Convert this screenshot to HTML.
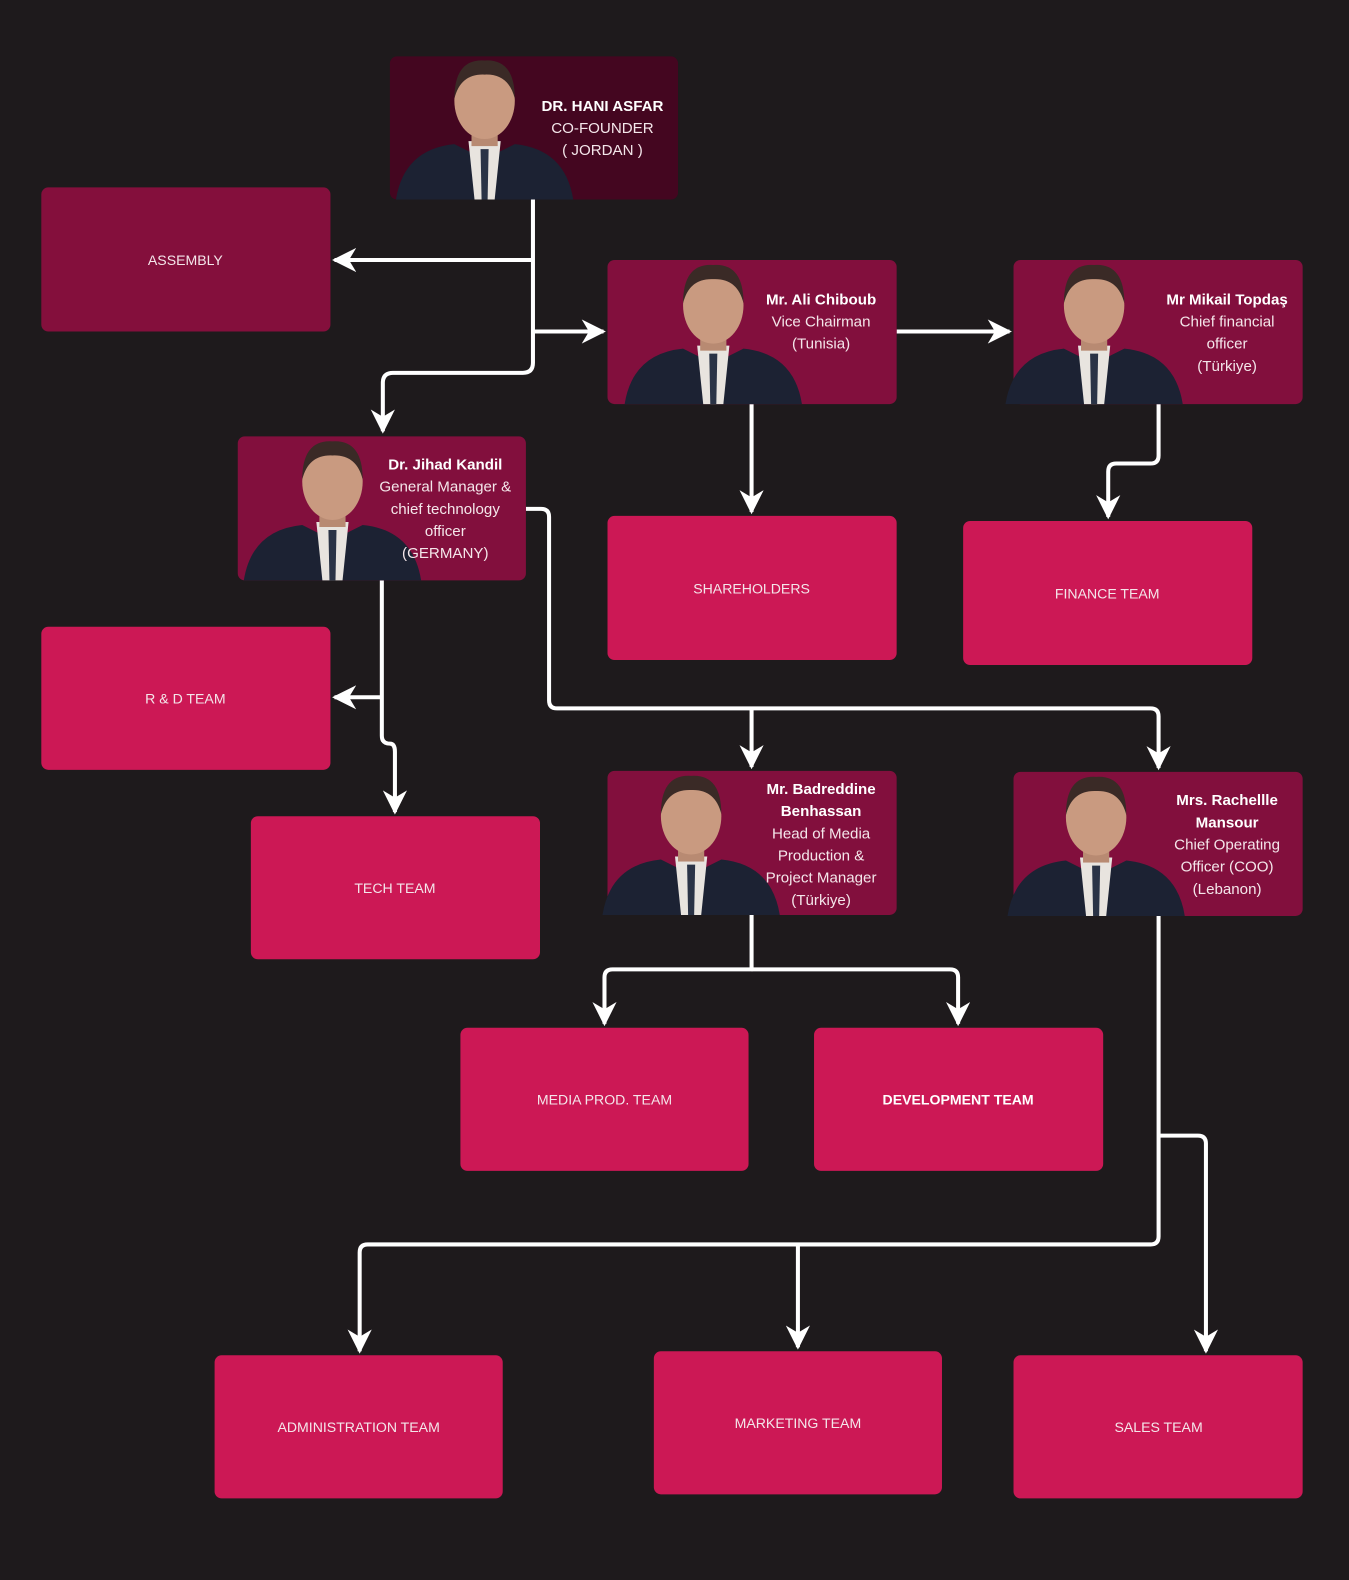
<!DOCTYPE html>
<html><head><meta charset="utf-8"><style>
html,body{margin:0;padding:0;background:#1e1a1c;}
svg{display:block}
text{font-family:"Liberation Sans",sans-serif;fill:#f4e6ea}
.t{font-size:14px;text-anchor:middle}
.n{font-size:15px;text-anchor:middle;font-weight:bold;fill:#fff}
.r{font-size:15px;text-anchor:middle}
</style></head><body>
<svg width="1349" height="1580" viewBox="0 0 1339 1568" preserveAspectRatio="none" xmlns="http://www.w3.org/2000/svg">
<defs>
<marker id="a" viewBox="0 0 10 10" refX="9" refY="5" markerWidth="6" markerHeight="6" orient="auto" markerUnits="strokeWidth">
<path d="M0,0 L10,5 L0,10 L3,5 Z" fill="#fff"/>
</marker>
<g id="p">
<path d="M-88,0 Q-80,-50 -30,-55 L0,-40 L30,-55 Q80,-50 88,0 Z" fill="#1c2233"/>
<path d="M-16,-58 L16,-58 L10,0 L-10,0Z" fill="#e8e4df"/>
<path d="M-4,-50 L4,-50 L3,0 L-3,0Z" fill="#2a3346"/>
<rect x="-13" y="-75" width="26" height="22" fill="#b88a72"/>
<ellipse cx="0" cy="-98" rx="30" ry="38" fill="#c99a80"/>
<path d="M-30,-100 Q-30,-140 0,-138 Q30,-140 30,-100 Q24,-125 0,-124 Q-24,-125 -30,-100Z" fill="#3a2a26"/>
</g>
</defs>
<rect width="1339" height="1568" fill="#1e1a1c"/>

<g fill="none" stroke="#fff" stroke-width="4" stroke-linejoin="round">
<path d="M529,198 V360 Q529,370 519,370 H390 Q380,370 380,380 V428" marker-end="url(#a)"/>
<path d="M529,258 H332" marker-end="url(#a)"/>
<path d="M529,329 H599" marker-end="url(#a)"/>
<path d="M890,329 H1002" marker-end="url(#a)"/>
<path d="M746,401 V508" marker-end="url(#a)"/>
<path d="M1150,401 V452 Q1150,460 1142,460 H1108 Q1100,460 1100,468 V513" marker-end="url(#a)"/>
<path d="M522,505 H537 Q545,505 545,513 V695 Q545,703 553,703 H1142 Q1150,703 1150,711 V762" marker-end="url(#a)"/>
<path d="M746,703 V761" marker-end="url(#a)"/>
<path d="M379,576 V730 Q379,738 387,738 Q392,738 392,746 V806" marker-end="url(#a)"/>
<path d="M379,692 H332" marker-end="url(#a)"/>
<path d="M746,908 V962 H608 Q600,962 600,970 V1016" marker-end="url(#a)"/>
<path d="M746,962 H943 Q951,962 951,970 V1016" marker-end="url(#a)"/>
<path d="M1150,909 V1227 Q1150,1235 1142,1235 H365 Q357,1235 357,1243 V1341" marker-end="url(#a)"/>
<path d="M1150,1127 H1189 Q1197,1127 1197,1135 V1341" marker-end="url(#a)"/>
<path d="M792,1235 V1337" marker-end="url(#a)"/>
</g>

<rect x="387" y="56" width="286" height="142" rx="7" fill="#440620"/>
<use href="#p" x="481" y="198"/>
<text class="n" x="598" y="110">DR. HANI ASFAR</text>
<text class="r" x="598" y="132">CO-FOUNDER</text>
<text class="r" x="598" y="154">( JORDAN )</text>

<rect x="41" y="186" width="287" height="143" rx="7" fill="#840f3c"/>
<text class="t" x="184" y="263">ASSEMBLY</text>

<rect x="603" y="258" width="287" height="143" rx="7" fill="#820f3d"/>
<use href="#p" x="708" y="401"/>
<text class="n" x="815" y="302">Mr. Ali Chiboub</text>
<text class="r" x="815" y="324">Vice Chairman</text>
<text class="r" x="815" y="346">(Tunisia)</text>

<rect x="1006" y="258" width="287" height="143" rx="7" fill="#820f3d"/>
<use href="#p" x="1086" y="401"/>
<text class="n" x="1218" y="302">Mr Mikail Topdaş</text>
<text class="r" x="1218" y="324">Chief financial</text>
<text class="r" x="1218" y="346">officer</text>
<text class="r" x="1218" y="368">(Türkiye)</text>

<rect x="236" y="433" width="286" height="143" rx="7" fill="#820f3d"/>
<use href="#p" x="330" y="576"/>
<text class="n" x="442" y="466">Dr. Jihad Kandil</text>
<text class="r" x="442" y="488">General Manager &amp;</text>
<text class="r" x="442" y="510">chief technology</text>
<text class="r" x="442" y="532">officer</text>
<text class="r" x="442" y="554">(GERMANY)</text>

<rect x="603" y="512" width="287" height="143" rx="7" fill="#cc1855"/>
<text class="t" x="746" y="589">SHAREHOLDERS</text>
<rect x="956" y="517" width="287" height="143" rx="7" fill="#cc1855"/>
<text class="t" x="1099" y="594">FINANCE TEAM</text>
<rect x="41" y="622" width="287" height="142" rx="7" fill="#cc1855"/>
<text class="t" x="184" y="698">R &amp; D TEAM</text>
<rect x="249" y="810" width="287" height="142" rx="7" fill="#cc1855"/>
<text class="t" x="392" y="886">TECH TEAM</text>

<rect x="603" y="765" width="287" height="143" rx="7" fill="#820f3d"/>
<use href="#p" x="686" y="908"/>
<text class="n" x="815" y="788">Mr. Badreddine</text>
<text class="n" x="815" y="810">Benhassan</text>
<text class="r" x="815" y="832">Head of Media</text>
<text class="r" x="815" y="854">Production &amp;</text>
<text class="r" x="815" y="876">Project Manager</text>
<text class="r" x="815" y="898">(Türkiye)</text>

<rect x="1006" y="766" width="287" height="143" rx="7" fill="#820f3d"/>
<use href="#p" x="1088" y="909"/>
<text class="n" x="1218" y="799">Mrs. Rachellle</text>
<text class="n" x="1218" y="821">Mansour</text>
<text class="r" x="1218" y="843">Chief Operating</text>
<text class="r" x="1218" y="865">Officer (COO)</text>
<text class="r" x="1218" y="887">(Lebanon)</text>

<rect x="457" y="1020" width="286" height="142" rx="7" fill="#cc1855"/>
<text class="t" x="600" y="1096">MEDIA PROD. TEAM</text>
<rect x="808" y="1020" width="287" height="142" rx="7" fill="#cc1855"/>
<text class="t" x="951" y="1096" style="font-weight:bold;fill:#fff">DEVELOPMENT  TEAM</text>
<rect x="213" y="1345" width="286" height="142" rx="7" fill="#cc1855"/>
<text class="t" x="356" y="1421">ADMINISTRATION TEAM</text>
<rect x="649" y="1341" width="286" height="142" rx="7" fill="#cc1855"/>
<text class="t" x="792" y="1417">MARKETING TEAM</text>
<rect x="1006" y="1345" width="287" height="142" rx="7" fill="#cc1855"/>
<text class="t" x="1150" y="1421">SALES TEAM</text>
</svg>
</body></html>
